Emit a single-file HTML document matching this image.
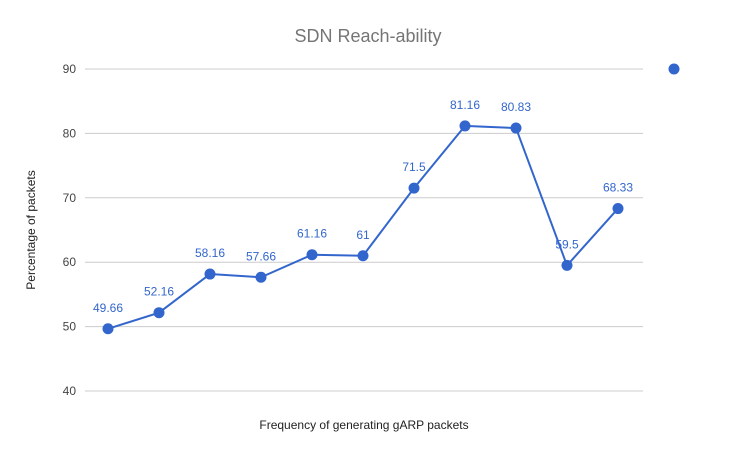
<!DOCTYPE html>
<html><head><meta charset="utf-8"><style>
html,body{margin:0;padding:0;background:#fff;}
svg{display:block;font-family:"Liberation Sans",Arial,sans-serif;}
</style></head><body>
<svg id="chart" width="736" height="455">
<text x="368" y="42" text-anchor="middle" font-size="18" fill="#757575">SDN Reach-ability</text>
<text transform="translate(35,230) rotate(-90)" text-anchor="middle" font-size="12" fill="#222">Percentage of packets</text>
<text x="364" y="429" text-anchor="middle" font-size="12" fill="#222">Frequency of generating gARP packets</text>
<g id="grid"></g><g id="series"></g>
<circle cx="674" cy="69" r="5.5" fill="#3366cc"/>
</svg>
<script>
const values=[49.66,52.16,58.16,57.66,61.16,61,71.5,81.16,80.83,59.5,68.33];
const labels=["49.66","52.16","58.16","57.66","61.16","61","71.5","81.16","80.83","59.5","68.33"];
const yTicks=[40,50,60,70,80,90];
const NS="http://www.w3.org/2000/svg";
const y=v=>69+(90-v)*(391-69)/50;
const x=i=>108+i*51;
const grid=document.getElementById('grid'),ser=document.getElementById('series');
function mk(t,a,p){const e=document.createElementNS(NS,t);for(const k in a)e.setAttribute(k,a[k]);p.appendChild(e);return e;}
yTicks.forEach(t=>{
 const l=mk('line',{x1:85,x2:643,y1:y(t),y2:y(t),stroke:'#ccc','stroke-width':1},grid);
 
 
 const tx=mk('text',{x:76,y:y(t)+4,'text-anchor':'end','font-size':12,fill:'#444'},grid);
 tx.textContent=t;
 
 
});
const pl=mk('polyline',{points:values.map((v,i)=>x(i)+','+y(v)).join(' '),fill:'none',stroke:'#3366cc','stroke-width':2},ser);


values.forEach((v,i)=>{
 const c=mk('circle',{cx:x(i),cy:y(v),r:5.5,fill:'#3366cc'},ser);
 
 
 const t=mk('text',{x:x(i),y:y(v)-17,'text-anchor':'middle','font-size':12,fill:'#3366cc'},ser);
 t.textContent=labels[i];
 
 
});
</script>
</body></html>
